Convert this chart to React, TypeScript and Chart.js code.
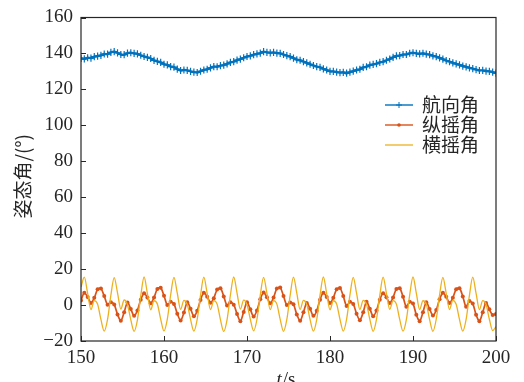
import React, { useEffect, useRef } from "react";
import { Chart, registerables } from "chart.js";
Chart.register(...registerables);

const seriesNames = ["航向角", "纵摇角", "横摇角"];
const seriesColors = ["#0072BD", "#D95319", "#EDB120"];
const xTicks = [150, 160, 170, 180, 190, 200];
const yTicks = [-20, 0, 20, 40, 60, 80, 100, 120, 140, 160];
const xTitleItalic = "t";
const xTitleRest = "/s";
const yTitle = "姿态角/(°)";

// sample times: 150.0 s to 200.0 s every 0.4 s (126 samples)
const time = Array.from({ length: 126 }, (_, i) => Math.round((150 + i * 0.4) * 10) / 10);

// 航向角 (yaw)
const yaw = [
  137.3, 137.0, 137.6, 137.4, 138.2, 138.5, 138.9, 139.7, 139.6, 140.6, 141.0, 140.3, 139.4, 139.3, 140.2, 140.4, 140.0, 139.8, 139.0, 138.3, 137.8, 137.2, 136.1, 135.6, 135.0,
  134.0, 133.6, 132.7, 132.4, 131.3, 130.5, 130.8, 130.6, 130.0, 129.6, 129.4, 130.1, 130.8, 131.2, 132.0, 132.7, 132.6, 133.2, 133.5, 134.2, 135.0, 135.4, 136.3, 136.8, 137.6,
  138.3, 138.6, 139.3, 139.8, 140.2, 141.0, 140.6, 140.3, 140.6, 140.2, 140.0, 139.4, 138.8, 138.2, 137.4, 136.5, 136.2, 135.4, 134.7, 134.0, 133.3, 132.7, 132.3, 131.4, 130.8,
  130.0, 130.0, 129.6, 129.3, 129.5, 129.0, 129.6, 130.2, 130.8, 131.2, 132.2, 132.6, 133.5, 133.9, 134.3, 135.0, 135.4, 136.2, 136.9, 137.8, 138.6, 138.8, 139.4, 139.4, 140.1,
  140.4, 140.0, 139.8, 140.1, 139.6, 139.3, 138.7, 138.2, 137.5, 136.8, 136.0, 135.5, 134.8, 134.2, 133.6, 133.0, 132.5, 132.0, 131.6, 131.0, 130.5, 130.6, 130.2, 130.0, 129.6,
  129.0,
];

// 纵摇角 (pitch)
const pitch = [
  2.5, 6.8, 4.5, 1.2, 4.0, 8.8, 9.2, 5.0, 0.2, 1.6, 0.3, -5.2, -8.8, -4.0, 1.4, -2.2, -6.0, -3.0, 3.0, 6.5, 4.2, 1.0, 4.2, 9.0, 9.6,
  5.2, 0.0, 1.8, 0.6, -4.8, -8.6, -4.2, 1.6, -2.0, -6.2, -3.2, 2.8, 6.8, 4.6, 1.3, 3.8, 8.6, 9.4, 4.8, -0.2, 1.5, 0.2, -5.0, -9.0, -3.8,
  1.5, -2.4, -6.4, -3.0, 3.2, 7.0, 4.4, 1.0, 4.2, 9.2, 9.8, 5.0, 0.0, 1.4, 0.4, -5.2, -8.8, -4.0, 1.2, -2.0, -6.0, -3.2, 3.0, 6.8, 4.5,
  1.2, 4.0, 8.8, 9.5, 5.0, -0.5, 1.8, 0.6, -4.8, -8.4, -4.0, 1.8, -2.0, -6.2, -3.0, 3.0, 6.6, 4.3, 1.2, 4.2, 9.0, 9.4, 4.6, -1.0, 1.8,
  0.8, -5.4, -9.0, -4.0, 1.6, -2.2, -5.8, -2.8, 3.2, 6.8, 4.6, 1.2, 4.0, 8.8, 9.4, 4.8, -1.0, 2.2, 0.8, -5.4, -9.0, -4.0, 1.2, -2.4, -5.6,
  -5.0,
];

// 横摇角 (roll)
const roll = [
  10.0, 15.5, 6.5, -2.5, 2.5, 0.5, -8.0, -14.5, -8.0, 5.5, 15.3, 6.8, -2.2, 2.8, 0.2, -8.2, -14.6, -8.2, 5.2, 15.6, 6.4, -2.6, 2.4, 0.6, -7.8,
  -14.4, -7.8, 5.6, 15.4, 6.6, -2.4, 2.6, 0.4, -8.0, -14.5, -8.0, 5.4, 15.5, 6.5, -2.5, 2.5, 0.5, -8.1, -14.7, -8.1, 5.5, 15.6, 6.7, -2.3, 2.7,
  0.3, -7.9, -14.4, -7.9, 5.6, 15.4, 6.5, -2.5, 2.5, 0.5, -8.0, -14.6, -8.0, 5.4, 15.5, 6.6, -2.4, 2.6, 0.4, -8.1, -14.5, -8.1, 5.5, 15.6, 6.4,
  -2.6, 2.4, 0.6, -7.9, -14.5, -7.9, 5.5, 15.4, 6.6, -2.5, 2.6, 0.4, -8.0, -14.6, -8.0, 5.4, 15.5, 6.5, -2.4, 2.5, 0.5, -8.0, -14.5, -8.1, 5.6,
  15.6, 6.6, -2.5, 2.4, 0.6, -8.1, -14.6, -7.9, 5.5, 15.4, 6.5, -2.5, 2.6, 0.4, -8.0, -14.5, -8.0, 5.4, 15.5, 6.5, -2.5, 2.5, 0.4, -7.9, -14.2,
  -12.0,
];

const TEXT = "#262626";
const NUM_FONT = "19px 'Liberation Serif'";
const CJK_FONT = "19px 'Noto Sans CJK SC'";

function drawMarker(ctx: CanvasRenderingContext2D, kind: number, x: number, y: number) {
  ctx.save();
  ctx.strokeStyle = seriesColors[kind];
  ctx.fillStyle = seriesColors[kind];
  if (kind === 0) {
    ctx.lineWidth = 1;
    ctx.beginPath();
    ctx.moveTo(x - 3, y);
    ctx.lineTo(x + 3, y);
    ctx.moveTo(x, y - 3);
    ctx.lineTo(x, y + 3);
    ctx.stroke();
  } else if (kind === 1) {
    ctx.beginPath();
    ctx.arc(x, y, 1.8, 0, Math.PI * 2);
    ctx.fill();
  }
  ctx.restore();
}

const decorPlugin = {
  id: "decor",
  afterDraw(chart: any) {
    const { ctx, chartArea } = chart;
    const { left, right, top, bottom } = chartArea;
    const xs = chart.scales.x;
    const ys = chart.scales.y;
    ctx.save();
    ctx.strokeStyle = TEXT;
    ctx.lineWidth = 1.2;
    ctx.strokeRect(left, top, right - left, bottom - top);
    ctx.lineWidth = 1;
    ctx.beginPath();
    xTicks.forEach((v) => {
      const px = Math.round(xs.getPixelForValue(v)) + 0.5;
      ctx.moveTo(px, bottom);
      ctx.lineTo(px, bottom - 5);
    });
    yTicks.forEach((v) => {
      const py = Math.round(ys.getPixelForValue(v)) + 0.5;
      ctx.moveTo(left, py);
      ctx.lineTo(left + 5, py);
    });
    ctx.stroke();
    ctx.fillStyle = TEXT;
    ctx.font = NUM_FONT;
    ctx.textAlign = "center";
    ctx.textBaseline = "alphabetic";
    xTicks.forEach((v) => {
      ctx.fillText(String(v), xs.getPixelForValue(v), bottom + 22);
    });
    ctx.textAlign = "right";
    ctx.textBaseline = "middle";
    yTicks.forEach((v) => {
      const s = v < 0 ? "\u2212" + String(-v) : String(v);
      ctx.fillText(s, left - 8, ys.getPixelForValue(v));
    });
    ctx.textBaseline = "alphabetic";
    ctx.textAlign = "left";
    ctx.font = "italic " + NUM_FONT;
    const w1 = ctx.measureText(xTitleItalic).width;
    ctx.font = NUM_FONT;
    const w2 = ctx.measureText(xTitleRest).width;
    const cx = (left + right) / 2 - 3;
    const x0 = cx - (w1 + w2) / 2;
    ctx.font = "italic " + NUM_FONT;
    ctx.fillText(xTitleItalic, x0, 385);
    ctx.font = NUM_FONT;
    ctx.fillText(xTitleRest, x0 + w1 + 1, 385);
    ctx.save();
    ctx.translate(23, (top + bottom) / 2 - 3);
    ctx.rotate(-Math.PI / 2);
    ctx.textAlign = "center";
    ctx.textBaseline = "middle";
    ctx.font = CJK_FONT;
    ctx.fillText(yTitle, 0, 0);
    ctx.restore();
    seriesNames.forEach((name, i) => {
      const ly = 105 + i * 20;
      ctx.strokeStyle = seriesColors[i];
      ctx.lineWidth = i === 2 ? 1.3 : 1.4;
      ctx.beginPath();
      ctx.moveTo(385, ly);
      ctx.lineTo(413, ly);
      ctx.stroke();
      drawMarker(ctx, i, 399, ly);
      ctx.fillStyle = TEXT;
      ctx.font = CJK_FONT;
      ctx.textAlign = "left";
      ctx.textBaseline = "middle";
      ctx.fillText(name, 422, ly);
    });
    ctx.restore();
  },
};

export default function App() {
  const ref = useRef<HTMLCanvasElement | null>(null);
  useEffect(() => {
    document.body.style.margin = "0";
    const canvas = ref.current;
    if (!canvas) return;
    const mk = (vals: number[]) => time.map((t, i) => ({ x: t, y: vals[i] }));
    const chart = new Chart(canvas, {
      type: "line",
      data: {
        datasets: [
          {
            label: seriesNames[0],
            data: mk(yaw),
            borderColor: seriesColors[0],
            backgroundColor: seriesColors[0],
            borderWidth: 2.4,
            pointStyle: "cross",
            pointRadius: 3.6,
            pointBorderWidth: 1.2,
            pointBorderColor: seriesColors[0],
            tension: 0.2,
            order: 2,
          },
          {
            label: seriesNames[1],
            data: mk(pitch),
            borderColor: seriesColors[1],
            backgroundColor: seriesColors[1],
            borderWidth: 1.7,
            pointStyle: "circle",
            pointRadius: 2,
            pointBorderWidth: 0,
            pointBackgroundColor: seriesColors[1],
            tension: 0.3,
            order: 1,
          },
          {
            label: seriesNames[2],
            data: mk(roll),
            borderColor: seriesColors[2],
            borderWidth: 1.3,
            pointRadius: 0,
            cubicInterpolationMode: "monotone",
            order: 0,
          },
        ],
      },
      options: {
        responsive: false,
        animation: false,
        events: [],
        layout: { padding: { left: 81, right: 28, top: 17.5, bottom: 41 } },
        plugins: { legend: { display: false }, tooltip: { enabled: false } },
        scales: {
          x: { type: "linear", min: 150, max: 200, display: false },
          y: { type: "linear", min: -20, max: 160, display: false },
        },
      },
      plugins: [decorPlugin],
    } as any);
    return () => chart.destroy();
  }, []);
  return (
    <div style={{ width: 524, height: 382, background: "#fff" }}>
      <canvas ref={ref} width={524} height={382} style={{ display: "block" }} />
    </div>
  );
}
